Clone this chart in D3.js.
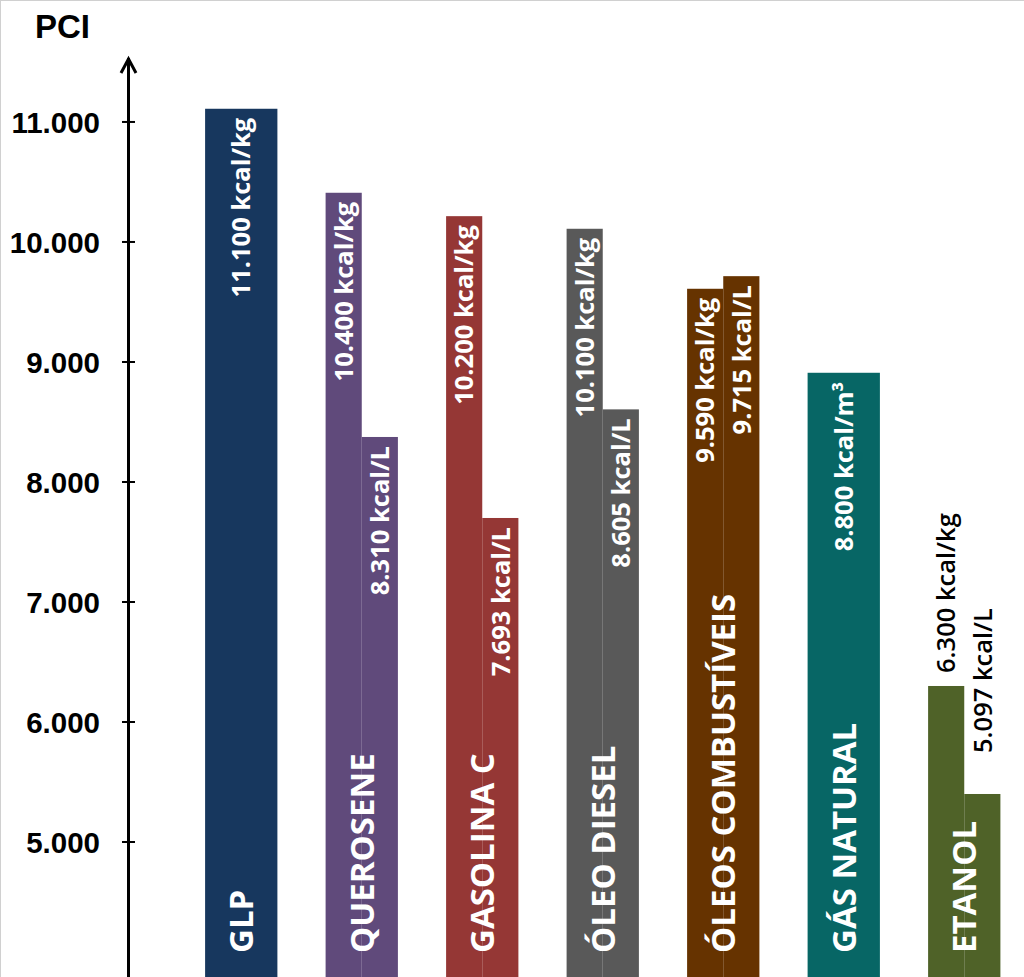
<!DOCTYPE html>
<html>
<head>
<meta charset="utf-8">
<script src="https://cdn.jsdelivr.net/npm/d3@7"></script>
<style>
  html, body { margin: 0; padding: 0; background: #fff; }
  svg { display: block; }
</style>
</head>
<body>
<script>
// ---- data ----
const categories = ["GLP", "QUEROSENE", "GASOLINA C", "ÓLEO DIESEL", "ÓLEOS COMBUSTÍVEIS", "GÁS NATURAL", "ETANOL"];
const valuesA = [11110, 10410, 10215, 10110, 9610, 8910, 6300];          // kcal/kg (m³ for gás natural)
const valuesB = [null, 8375, 7700, 8605, 9715, null, 5400];             // kcal/L
const labelsA = ["11.100 kcal/kg", "10.400 kcal/kg", "10.200 kcal/kg", "10.100 kcal/kg", "9.590 kcal/kg", "8.800 kcal/m³", "6.300 kcal/kg"];
const labelsB = [null, "8.310 kcal/L", "7.693 kcal/L", "8.605 kcal/L", "9.715 kcal/L", null, "5.097 kcal/L"];
const colors = ["#17375E", "#604A7B", "#953735", "#595959", "#663300", "#076665", "#4F6228"];
const tickValues = [5000, 6000, 7000, 8000, 9000, 10000, 11000];
const yTitle = "PCI";

// ---- layout ----
const W = 1024, H = 977;
const svg = d3.select("body").append("svg").attr("width", W).attr("height", H);

svg.append("rect").attr("x", 0.5).attr("y", 0.5).attr("width", W).attr("height", H)
  .attr("fill", "#fff").attr("stroke", "#d0d0d0");

const y = d3.scaleLinear().domain([3875, 11533]).range([977, 58]);
const x = d3.scaleBand().domain(categories).range([181, 1024.5]).paddingInner(0.4).paddingOuter(0.2);

const loc = d3.formatLocale({decimal: ",", thousands: ".", grouping: [3], currency: ["", ""]});
const fmt = loc.format(",");

// bars
const bars = [];
categories.forEach((c, i) => {
  const hasB = valuesB[i] != null;
  const bw = x.bandwidth();
  const sub = hasB ? bw / 2 : bw;
  bars.push({c, i, v: valuesA[i], label: labelsA[i], x0: x(c), w: sub, k: 0});
  if (hasB) bars.push({c, i, v: valuesB[i], label: labelsB[i], x0: x(c) + sub, w: sub, k: 1});
});

svg.append("g").selectAll("rect").data(bars).join("rect")
  .attr("x", d => d.x0).attr("width", d => d.w)
  .attr("y", d => y(d.v)).attr("height", d => y.range()[0] - y(d.v))
  .attr("fill", d => colors[d.i]);

// value labels
const outside = new Set(["ETANOL"]);
const outsideGap = [13, 41];
const vl = svg.append("g").attr("font-family", "'Open Sans', sans-serif").attr("font-weight", "bold").attr("font-size", 25.5);
bars.forEach(d => {
  const cx = d.x0 + d.w / 2;
  if (outside.has(d.c)) {
    vl.append("text")
      .attr("transform", `translate(${cx},${y(d.v) - outsideGap[d.k]}) rotate(-90)`)
      .attr("text-anchor", "start").attr("dy", "0.36em")
      .attr("font-weight", 600).attr("fill", "#000").text(d.label);
  } else {
    vl.append("text")
      .attr("transform", `translate(${cx},${y(d.v) + 9}) rotate(-90)`)
      .attr("text-anchor", "end").attr("dy", "0.36em")
      .attr("fill", "#fff").text(d.label);
  }
});

// category labels
svg.append("g").selectAll("text").data(categories).join("text")
  .attr("transform", c => `translate(${x(c) + x.bandwidth() / 2},953) rotate(-90)`)
  .attr("text-anchor", "start").attr("dy", "0.36em")
  .attr("font-family", "'Open Sans', sans-serif").attr("font-weight", "bold").attr("font-size", 33)
  .attr("fill", "#fff").text(c => c);

// axis
const ax = svg.append("g");
ax.append("line").attr("x1", 128.5).attr("x2", 128.5).attr("y1", y.range()[1]).attr("y2", H)
  .attr("stroke", "#000").attr("stroke-width", 3);
ax.append("polyline")
  .attr("points", `121,73 128.5,59 136,73`)
  .attr("fill", "none").attr("stroke", "#000").attr("stroke-width", 3);
const ticks = ax.selectAll("g.tick").data(tickValues).join("g").attr("class", "tick")
  .attr("transform", d => `translate(0,${y(d)})`);
ticks.append("line").attr("x1", 122).attr("x2", 135).attr("stroke", "#000").attr("stroke-width", 2);
ticks.append("text").attr("x", 100).attr("dy", "0.36em").attr("text-anchor", "end")
  .attr("font-family", "'Liberation Sans', Arial, sans-serif").attr("font-weight", "bold").attr("font-size", 29.5)
  .attr("fill", "#000").text(d => fmt(d));

svg.append("text").attr("x", 35).attr("y", 38)
  .attr("font-family", "'Liberation Sans', Arial, sans-serif").attr("font-weight", "bold").attr("font-size", 33)
  .text(yTitle);
</script>
</body>
</html>
